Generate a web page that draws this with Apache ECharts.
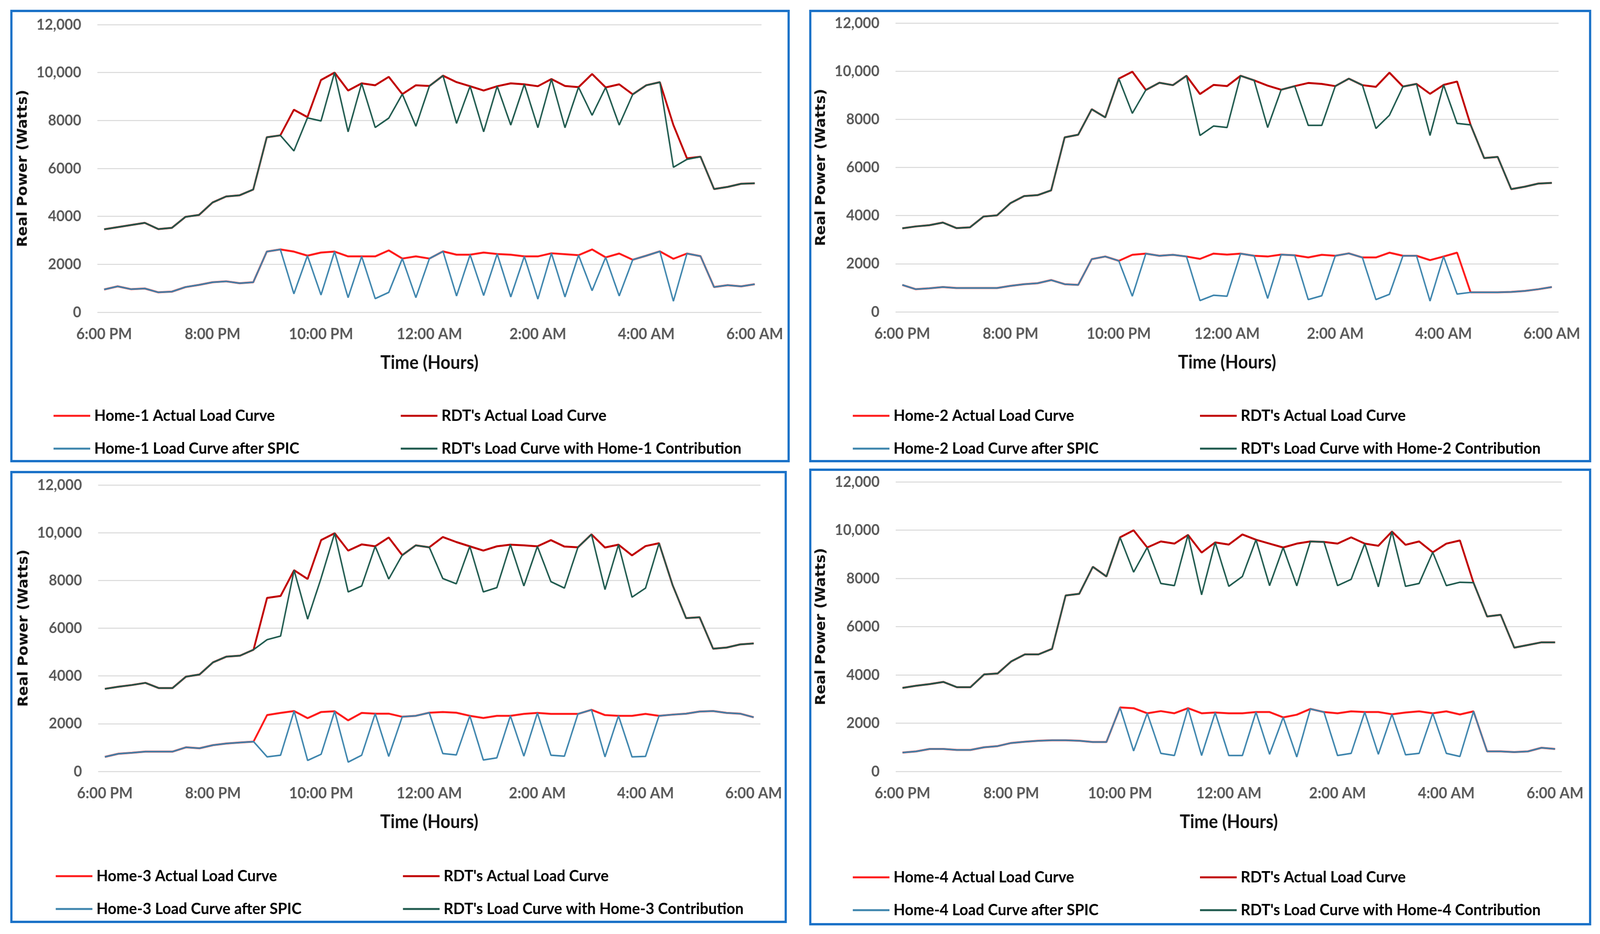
<!DOCTYPE html>
<html>
<head>
<meta charset="utf-8">
<script src="https://cdn.jsdelivr.net/npm/echarts@6/dist/echarts.min.js"></script>
<style>
html,body{margin:0;padding:0;background:#fff;overflow:hidden;}
#chart{width:4364px;height:2390px;transform-origin:0 0;}
</style>
</head>
<body>
<div id="chart"></div>
<script>
// ---------- DATA ----------
const categories = ["6:00 PM","6:15 PM","6:30 PM","6:45 PM","7:00 PM","7:15 PM","7:30 PM","7:45 PM",
"8:00 PM","8:15 PM","8:30 PM","8:45 PM","9:00 PM","9:15 PM","9:30 PM","9:45 PM",
"10:00 PM","10:15 PM","10:30 PM","10:45 PM","11:00 PM","11:15 PM","11:30 PM","11:45 PM",
"12:00 AM","12:15 AM","12:30 AM","12:45 AM","1:00 AM","1:15 AM","1:30 AM","1:45 AM",
"2:00 AM","2:15 AM","2:30 AM","2:45 AM","3:00 AM","3:15 AM","3:30 AM","3:45 AM",
"4:00 AM","4:15 AM","4:30 AM","4:45 AM","5:00 AM","5:15 AM","5:30 AM","5:45 AM","6:00 AM"];

const yTickLabels = ["0","2000","4000","6000","8000","10,000","12,000"];

// Panel 1
const home1Actual = [950,1080,960,990,830,860,1050,1140,1250,1290,1210,1250,2530,2620,2530,2360,2490,2530,2330,2330,2330,2580,2240,2330,2240,2540,2400,2400,2490,2430,2400,2330,2330,2460,2420,2380,2620,2290,2450,2190,2360,2540,2230,2450,2340,1050,1130,1080,1170];
const home1Spic   = [950,1080,960,990,830,860,1050,1140,1250,1290,1210,1250,2530,2620,770,2360,720,2530,610,2330,570,830,2240,610,2240,2540,680,2400,700,2430,640,2330,550,2460,640,2380,900,2290,680,2190,2360,2540,460,2450,2340,1050,1130,1080,1170];
const rdt1Actual  = [3460,3550,3640,3730,3470,3520,3980,4060,4580,4830,4880,5120,7300,7380,8450,8140,9690,10000,9250,9550,9470,9820,9100,9470,9440,9870,9600,9430,9250,9430,9550,9510,9430,9730,9440,9390,9940,9380,9510,9090,9470,9600,7810,6420,6490,5140,5230,5360,5380];
const rdt1Contrib = [3460,3550,3640,3730,3470,3520,3980,4060,4580,4830,4880,5120,7300,7380,6730,8110,7980,10000,7530,9550,7710,8100,9100,7760,9440,9870,7880,9430,7530,9430,7810,9510,7700,9730,7700,9390,8220,9380,7810,9090,9470,9600,6050,6380,6490,5140,5230,5360,5380];

// Panel 2
const home2Actual = [1120,940,980,1030,990,990,990,990,1080,1150,1190,1320,1150,1120,2190,2300,2120,2370,2420,2330,2370,2300,2200,2420,2380,2420,2330,2300,2380,2350,2260,2370,2330,2430,2260,2260,2460,2330,2330,2150,2300,2460,810,810,810,830,870,940,1030];
const home2Spic   = [1120,940,980,1030,990,990,990,990,1080,1150,1190,1320,1150,1120,2190,2300,2120,650,2420,2330,2370,2300,470,690,650,2420,2330,560,2380,2350,510,670,2330,2430,2260,510,730,2330,2330,450,2300,740,810,810,810,830,870,940,1030];
const rdt2Actual  = [3470,3550,3600,3710,3480,3510,3960,4010,4520,4810,4850,5050,7250,7360,8420,8080,9690,9980,9220,9520,9420,9810,9050,9430,9380,9810,9620,9400,9230,9380,9510,9470,9380,9690,9420,9350,9940,9360,9470,9060,9430,9570,7770,6390,6440,5100,5200,5330,5360];
const rdt2Contrib = [3470,3550,3600,3710,3480,3510,3960,4010,4520,4810,4850,5050,7250,7360,8420,8080,9690,8250,9220,9520,9420,9810,7330,7720,7660,9810,9620,7660,9230,9380,7750,7750,9380,9690,9420,7620,8170,9360,9470,7330,9430,7830,7770,6390,6440,5100,5200,5330,5360];

// Panel 3
const home3Actual = [610,740,780,830,830,830,1010,970,1100,1170,1210,1250,2360,2450,2530,2230,2490,2520,2140,2450,2420,2420,2290,2330,2460,2490,2460,2330,2240,2330,2330,2410,2450,2410,2410,2410,2580,2360,2330,2330,2410,2330,2380,2420,2510,2530,2450,2420,2270];
const home3Spic   = [610,740,780,830,830,830,1010,970,1100,1170,1210,1250,610,680,2530,460,720,2520,390,680,2420,630,2290,2330,2460,750,690,2330,480,570,2330,640,2450,680,640,2410,2580,610,2330,610,630,2330,2380,2420,2510,2530,2450,2420,2270];
const rdt3Actual  = [3460,3550,3620,3710,3490,3490,3970,4060,4570,4810,4850,5100,7270,7350,8430,8060,9690,9980,9250,9510,9430,9800,9060,9470,9390,9820,9610,9430,9250,9430,9500,9470,9430,9690,9420,9390,9930,9380,9500,9050,9440,9560,7810,6420,6460,5140,5190,5320,5360];
const rdt3Contrib = [3460,3550,3620,3710,3490,3490,3970,4060,4570,4810,4850,5100,5520,5670,8430,6380,8100,9980,7520,7770,9430,8060,9060,9470,9390,8080,7860,9430,7520,7700,9500,7770,9430,7950,7680,9390,9930,7620,9500,7300,7680,9560,7810,6420,6460,5140,5190,5320,5360];

// Panel 4
const home4Actual = [780,830,930,930,890,890,1000,1050,1180,1230,1270,1290,1290,1270,1220,1220,2650,2620,2410,2500,2410,2620,2410,2440,2410,2410,2460,2460,2240,2350,2590,2460,2410,2490,2460,2460,2370,2440,2490,2410,2490,2360,2490,830,830,800,830,980,930];
const home4Spic   = [780,830,930,930,890,890,1000,1050,1180,1230,1270,1290,1290,1270,1220,1220,2650,850,2410,750,660,2620,660,2440,660,660,2460,710,2240,600,2590,2460,660,750,2460,710,2370,690,750,2410,750,620,2490,830,830,800,830,980,930];
const rdt4Actual  = [3460,3550,3620,3710,3490,3490,4020,4060,4560,4850,4850,5080,7290,7360,8480,8080,9700,9990,9280,9530,9440,9800,9070,9490,9400,9820,9600,9440,9280,9440,9530,9510,9440,9700,9440,9350,9940,9390,9530,9080,9440,9570,7820,6420,6490,5130,5240,5350,5350];
const rdt4Contrib = [3460,3550,3620,3710,3490,3490,4020,4060,4560,4850,4850,5080,7290,7360,8480,8080,9700,8260,9280,7790,7700,9800,7320,9490,7670,8080,9600,7700,9280,7690,9530,9510,7700,7960,9440,7650,9940,7670,7790,9080,7700,7840,7820,6420,6490,5130,5240,5350,5350];

const homeNames = ["Home-1","Home-2","Home-3","Home-4"];

// ---------- LAYOUT (designed for a 4364 x 2390 canvas) ----------
const DESIGN_W = 4364, DESIGN_H = 2390;
const chartEl = document.getElementById('chart');
const sx = Math.min(1, window.innerWidth / DESIGN_W);
const sy = Math.min(1, window.innerHeight / DESIGN_H);
chartEl.style.transform = 'scale(' + sx + ',' + sy + ')';

const panels = [
  {grid:{left:265.5,top:63,width:1811.5,height:736}, ha:home1Actual, hs:home1Spic, ra:rdt1Actual, rc:rdt1Contrib, legLeft:[146,1093], legRows:[1064,1148], border:{x:31,y:28,width:2120,height:1152}},
  {grid:{left:2442.5,top:59,width:1808.5,height:739}, ha:home2Actual, hs:home2Spic, ra:rdt2Actual, rc:rdt2Contrib, legLeft:[2326,3273], legRows:[1064,1148], border:{x:2210,y:28,width:2127,height:1152}},
  {grid:{left:267.6,top:1241,width:1806.4,height:733}, ha:home3Actual, hs:home3Spic, ra:rdt3Actual, rc:rdt3Contrib, legLeft:[152,1099], legRows:[2242,2326], border:{x:31,y:1208,width:2112,height:1151}},
  {grid:{left:2443,top:1233,width:1817,height:741}, ha:home4Actual, hs:home4Spic, ra:rdt4Actual, rc:rdt4Contrib, legLeft:[2326,3273], legRows:[2245,2329], border:{x:2210,y:1202,width:2127,height:1163}}
];

const C_HOME = '#ff1a1a', C_RDT = '#c00000', C_SPIC = '#3e85ad', C_CONTRIB = '#1f5a4e';
const labelFont = 'Lato, "Liberation Sans", sans-serif';

const grids = [], xAxes = [], yAxes = [], series = [], legends = [], graphics = [];

panels.forEach((p, i) => {
  const hn = homeNames[i];
  const nHA = hn + ' Actual Load Curve';
  const nRA = "RDT's Actual Load Curve";
  const nHS = hn + ' Load Curve after SPIC';
  const nRC = "RDT's Load Curve with " + hn + ' Contribution';
  grids.push(Object.assign({containLabel:false}, p.grid));
  xAxes.push({
    type:'category', gridIndex:i, data:categories, boundaryGap:true,
    axisLine:{show:false}, axisTick:{show:false},
    axisLabel:{interval:7, margin:36, color:'#595959', fontFamily:labelFont, fontWeight:'bold', fontSize:40},
    name:'Time (Hours)', nameLocation:'middle', nameGap:106,
    nameTextStyle:{color:'#111', fontFamily:labelFont, fontWeight:'bold', fontSize:47}
  });
  yAxes.push({
    type:'value', gridIndex:i, min:0, max:12000, interval:2000,
    axisLine:{show:false}, axisTick:{show:false},
    splitLine:{lineStyle:{color:'#d9d9d9', width:2.5}},
    axisLabel:{margin:44, color:'#595959', fontFamily:labelFont, fontWeight:'bold', fontSize:39,
      formatter:(v)=> yTickLabels[Math.round(v/2000)]},
    name:'Real Power (Watts)', nameLocation:'middle', nameRotate:90, nameGap:184,
    nameTextStyle:{color:'#111', fontFamily:'"DejaVu Sans", Verdana, sans-serif', fontWeight:'bold', fontSize:37}
  });
  const mk = (name, data, color, width) => ({
    type:'line', name, data, xAxisIndex:i, yAxisIndex:i, symbol:'none',
    lineStyle:{color, width}, itemStyle:{color}, animation:false
  });
  series.push(mk(nHA, p.ha, C_HOME, 5));
  series.push(mk(nRA, p.ra, C_RDT, 5));
  series.push(mk(nHS, p.hs, C_SPIC, 4));
  series.push(mk(nRC, p.rc, C_CONTRIB, 4));
  const legItems = [[nHA, 0, 0], [nRA, 1, 0], [nHS, 0, 1], [nRC, 1, 1]];
  legItems.forEach(([name, col, row]) => {
    legends.push({
      data:[name], left:p.legLeft[col], top:p.legRows[row] - 21, padding:0,
      icon:'rect', itemWidth:100, itemHeight:5, itemGap:0,
      selectedMode:false,
      textStyle:{color:'#000', fontFamily:labelFont, fontWeight:'bold', fontSize:41, lineHeight:42, padding:[0,0,0,6]}
    });
  });
  graphics.push({type:'rect', shape:p.border, style:{fill:null, stroke:'#1b72c8', lineWidth:6}, silent:true, z:100});
});

const chart = echarts.init(chartEl, null, {renderer:'canvas', width:DESIGN_W, height:DESIGN_H});
chart.setOption({
  backgroundColor:'#ffffff',
  animation:false,
  grid:grids, xAxis:xAxes, yAxis:yAxes, series:series, legend:legends,
  graphic:graphics
});
</script>
</body>
</html>
